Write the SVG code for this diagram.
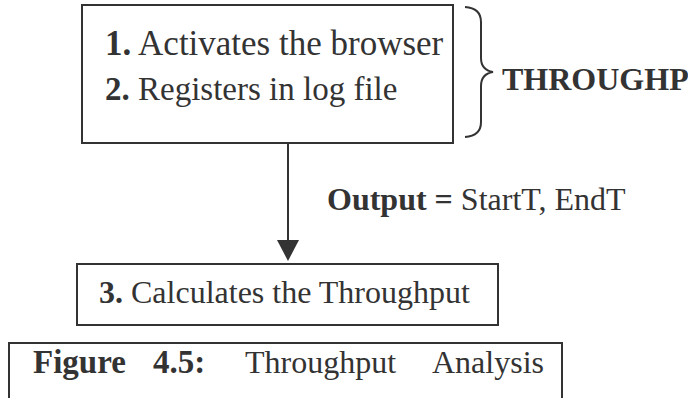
<svg xmlns="http://www.w3.org/2000/svg" width="688" height="398" viewBox="0 0 688 398">
  <style>
    .box { fill: #fff; stroke: #333; stroke-width: 2; }
    .t { font-family: "Liberation Serif", "Times New Roman", serif; fill: #333; }
    .b { font-weight: bold; }
    .line { stroke: #333; stroke-width: 2; fill: none; }
  </style>
  <rect width="688" height="398" fill="#fff"/>

  <!-- connectors -->
  <g id="connectors">
    <line class="line" x1="288" y1="143" x2="288" y2="240"/>
    <path d="M277,240 L299,240 L288,261 Z" fill="#333"/>
    <!-- curly brace grouping steps 1 and 2 -->
    <path class="line" d="M465,7 Q481,8 481,22 L481,58 Q481,70 493,72 Q481,74 481,86 L481,122 Q481,136 465,137"/>
  </g>

  <g id="node-steps">
    <rect class="box" x="82" y="5" width="371" height="138"/>
    <text class="t" x="105" y="55" font-size="35"><tspan class="b">1.</tspan> Activates the browser</text>
    <text class="t" x="105" y="100" font-size="33"><tspan class="b">2.</tspan> Registers in log file</text>
  </g>

  <g id="node-throughp">
    <text class="t b" x="502" y="90" font-size="32">THROUGHP</text>
  </g>

  <g id="label-output">
    <text class="t" x="327" y="210" font-size="32"><tspan class="b">Output =</tspan> StartT, EndT</text>
  </g>

  <g id="node-calc">
    <rect class="box" x="77" y="264" width="421" height="61"/>
    <text class="t" x="99" y="303" font-size="32"><tspan class="b">3.</tspan> Calculates the Throughput</text>
  </g>

  <g id="caption">
    <path class="line" d="M9,398 L9,343 L562,343 L562,398"/>
    <text class="t b" x="33" y="373" font-size="33">Figure</text>
    <text class="t b" x="153" y="373" font-size="33">4.5:</text>
    <text class="t" x="245" y="373" font-size="32">Throughput</text>
    <text class="t" x="432" y="373" font-size="32">Analysis</text>
  </g>
</svg>
